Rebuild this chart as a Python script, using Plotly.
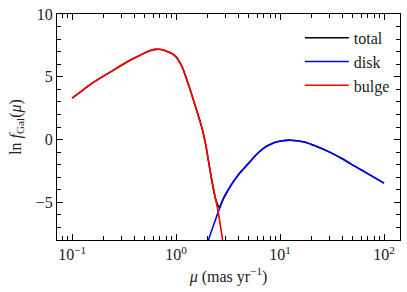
import plotly.graph_objects as go

# Data
bulge_mu = [0.1, 0.13, 0.16, 0.22, 0.34, 0.45, 0.55, 0.63, 0.72, 0.82, 0.98, 1.13, 1.31, 1.52, 1.77, 1.90, 2.20, 2.55, 2.79, 2.85]
bulge_ln = [3.3, 4.0, 4.55, 5.25, 6.2, 6.72, 7.05, 7.18, 7.17, 7.02, 6.67, 5.87, 4.42, 2.75, 0.95, -0.15, -3.2, -5.85, -7.9, -8.4]

disk_mu = [2.0, 2.05, 2.46, 2.65, 2.85, 3.1, 3.31, 3.56, 4.12, 4.44, 5.15, 6.0, 6.91, 8.0, 9.0, 10.5, 12.5, 17.0, 22.5, 30.0, 40.0, 47.0, 60.0, 75.0, 100.0]
disk_ln = [-8.4, -8.0, -6.1, -5.37, -4.7, -4.15, -3.75, -3.35, -2.65, -2.35, -1.75, -1.15, -0.7, -0.4, -0.22, -0.1, -0.05, -0.2, -0.55, -1.0, -1.55, -1.9, -2.4, -2.87, -3.47]

total_mu = [0.1, 0.13, 0.16, 0.22, 0.34, 0.45, 0.55, 0.63, 0.72, 0.82, 0.98, 1.13, 1.31, 1.52, 1.77, 1.90, 2.20, 2.40, 2.55, 2.62, 2.70, 2.85, 3.1, 3.31, 3.56, 4.12, 4.44, 5.15, 6.0, 6.91, 8.0, 9.0, 10.5, 12.5, 17.0, 22.5, 30.0, 40.0, 47.0, 60.0, 75.0, 100.0]
total_ln = [3.3, 4.0, 4.55, 5.25, 6.2, 6.72, 7.05, 7.18, 7.17, 7.02, 6.67, 5.87, 4.42, 2.75, 0.95, -0.15, -3.2, -4.75, -5.3, -5.42, -5.15, -4.7, -4.15, -3.75, -3.35, -2.65, -2.35, -1.75, -1.15, -0.7, -0.4, -0.22, -0.1, -0.05, -0.2, -0.55, -1.0, -1.55, -1.9, -2.4, -2.87, -3.47]

x_ticks = [0.1, 1, 10, 100]
x_ticktext = ["10<sup>\u22121</sup>", "10<sup>0</sup>", "10<sup>1</sup>", "10<sup>2</sup>"]
x_minor = [0.08, 0.09] + [k * 0.1 for k in range(2, 10)] + list(range(2, 10)) + [k * 10 for k in range(2, 10)]
y_ticks = [-5, 0, 5, 10]
y_ticktext = ["\u22125", "0", "5", "10"]

FONT = "Liberation Serif"
TXT = "#222"
FS = 16

fig = go.Figure()
fig.add_trace(go.Scatter(x=total_mu, y=total_ln, mode="lines", name="total",
                         line=dict(color="black", width=1.6, shape="spline", smoothing=1.0)))
fig.add_trace(go.Scatter(x=disk_mu, y=disk_ln, mode="lines", name="disk",
                         line=dict(color="blue", width=1.6, shape="spline", smoothing=1.0)))
fig.add_trace(go.Scatter(x=bulge_mu, y=bulge_ln, mode="lines", name="bulge",
                         line=dict(color="red", width=1.6, shape="spline", smoothing=1.0)))

axis_common = dict(
    showgrid=False, zeroline=False, showline=True, linecolor="black", linewidth=1.2,
    mirror="allticks", ticks="inside", ticklen=6, tickwidth=1, tickcolor="black",
    tickfont=dict(family=FONT, size=FS, color=TXT), automargin=False,
)

fig.update_xaxes(
    type="log", range=[-1.145, 2.153],
    tickvals=x_ticks, ticktext=x_ticktext,
    minor=dict(tickvals=x_minor, ticks="inside", ticklen=3.5, tickwidth=0.8, tickcolor="black"),
    title=dict(text="<i>\u03bc</i> (mas yr<sup>\u22121</sup>)", font=dict(family=FONT, size=FS, color=TXT), standoff=8),
    **axis_common,
)
fig.update_yaxes(
    range=[-8, 10],
    tickvals=y_ticks, ticktext=y_ticktext,
    minor=dict(dtick=1, ticks="inside", ticklen=3.5, tickwidth=0.8, tickcolor="black"),
    title=dict(text="ln <i>f</i><sub>Gal</sub>(<i>\u03bc</i>)", font=dict(family=FONT, size=FS, color=TXT), standoff=10),
    **axis_common,
)

fig.update_layout(
    width=407, height=292,
    margin=dict(l=57, r=7, t=14, b=52),
    paper_bgcolor="white", plot_bgcolor="white",
    legend=dict(x=0.985, y=0.97, xanchor="right", yanchor="top",
                bgcolor="rgba(0,0,0,0)", borderwidth=0, itemwidth=44,
                font=dict(family=FONT, size=FS, color=TXT)),
)

fig.write_html("out.html", config={"displayModeBar": False},
               post_script="document.body.style.margin='0';")
